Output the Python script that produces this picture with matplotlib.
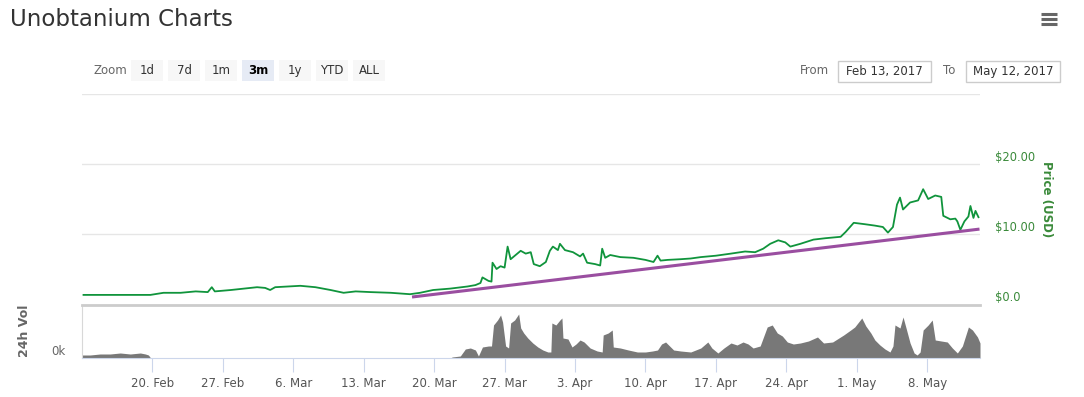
import datetime as dt
import matplotlib
matplotlib.use("Agg")
import matplotlib.pyplot as plt
import matplotlib.dates as mdates
from matplotlib.patches import Rectangle

# ---------------- data ----------------
start_date = dt.datetime(2017, 2, 13)

price_days = [0.15, 1.8, 4.8, 6.8, 8.1, 9.8, 11.3, 12.5, 12.9, 13.2, 14.8, 17.4, 18.2, 18.7, 19.2,
              21.7, 23.2, 24.7, 26.0, 27.2, 28.7, 30.7, 32.6, 33.6, 34.9, 36.6, 38.3, 39.1, 39.6,
              39.8, 40.4, 40.7, 40.8, 41.2, 41.6, 42.0, 42.3, 42.6, 43.1, 43.6, 44.1, 44.6, 44.9,
              45.5, 46.1, 46.5, 46.8, 47.3, 47.5, 48.0, 48.8, 49.5, 49.8, 50.2, 51.0, 51.5, 51.7,
              52.0, 52.5, 53.5, 54.8, 56.0, 56.8, 57.2, 57.5, 58.2, 59.5, 60.5, 61.5, 63.0, 64.5,
              65.9, 66.9, 67.7, 68.4, 69.2, 69.9, 70.4, 71.4, 72.7, 73.9, 75.4, 75.9, 76.7, 77.8,
              78.8, 79.6, 80.1, 80.6, 81.0, 81.3, 81.6, 82.3, 83.1, 83.6, 84.1, 84.8, 85.4, 85.6,
              86.3, 86.8, 87.0, 87.3, 87.7, 88.1, 88.3, 88.6, 88.8, 89.1]
price_usd = [1.3, 1.3, 1.3, 1.3, 1.6, 1.6, 1.8, 1.7, 2.4, 1.8, 2.0, 2.4, 2.3, 2.0, 2.4,
             2.6, 2.4, 2.0, 1.6, 1.8, 1.7, 1.6, 1.4, 1.6, 2.0, 2.2, 2.5, 2.7, 3.0,
             3.8, 3.3, 3.2, 5.9, 5.0, 5.4, 5.2, 8.2, 6.4, 7.0, 7.6, 7.2, 7.4, 5.7,
             5.4, 6.0, 7.6, 8.2, 7.7, 8.6, 7.7, 7.4, 6.8, 7.2, 5.9, 5.7, 5.5, 7.9,
             6.6, 7.0, 6.7, 6.6, 6.3, 6.0, 6.9, 6.2, 6.3, 6.4, 6.5, 6.7, 6.9, 7.2,
             7.5, 7.4, 7.9, 8.6, 9.1, 8.8, 8.2, 8.6, 9.2, 9.4, 9.6, 10.3, 11.6, 11.4,
             11.2, 11.0, 10.2, 11.0, 14.2, 15.2, 13.5, 14.5, 14.8, 16.4, 15.0, 15.5, 15.3, 12.6,
             12.1, 12.2, 11.8, 10.6, 11.8, 12.5, 14.0, 12.3, 13.3, 12.4]

trend_days = [32.8, 89.2]
trend_usd = [1.0, 10.7]

vol_days = [0.0, 0.8, 1.8, 2.8, 3.8, 4.8, 5.8, 6.3, 6.6, 6.8, 36.6, 36.8, 37.6, 38.1, 38.6,
            39.1, 39.4, 39.8, 40.4, 40.7, 40.9, 41.3, 41.6, 41.8, 42.1, 42.4, 42.6, 43.0, 43.4,
            43.6, 43.9, 44.3, 44.8, 45.3, 45.8, 46.3, 46.6, 46.7, 47.1, 47.5, 47.7, 47.8, 48.3,
            48.7, 49.1, 49.5, 49.9, 50.5, 51.2, 51.7, 51.8, 52.3, 52.7, 52.8, 53.5, 54.3, 55.2,
            56.0, 56.7, 57.2, 57.6, 58.0, 58.4, 58.8, 59.5, 60.5, 61.5, 62.2, 62.6, 63.2, 63.8,
            64.5, 65.1, 65.7, 66.2, 66.7, 67.4, 68.1, 68.6, 69.1, 69.6, 70.1, 70.7, 71.4, 72.2,
            73.1, 73.7, 74.6, 75.7, 76.4, 76.8, 77.5, 77.9, 78.4, 78.8, 79.3, 79.8, 80.3, 80.6,
            80.8, 81.3, 81.6, 81.9, 82.3, 82.7, 83.0, 83.3, 83.6, 84.1, 84.5, 84.8, 85.4, 86.0,
            86.5, 87.0, 87.5, 88.1, 88.5, 89.0, 89.25]
vol_k = [3, 3, 4, 4, 5, 4, 5, 4, 3, 0.3, 0, 1, 2, 9, 10,
         8, 2, 11, 12, 12, 33, 38, 43, 36, 12, 10, 35, 38, 44,
         30, 25, 20, 15, 11, 8, 6, 6, 35, 33, 38, 40, 20, 19,
         11, 14, 18, 16, 10, 7, 6, 23, 25, 28, 11, 10, 8, 6,
         6, 7, 8, 14, 16, 12, 8, 7, 6, 10, 16, 10, 5, 10,
         15, 13, 16, 14, 10, 12, 31, 33, 25, 22, 16, 14, 15, 17,
         21, 15, 16, 23, 28, 31, 40, 32, 25, 18, 13, 9, 6, 12,
         33, 30, 41, 30, 15, 5, 3, 6, 28, 33, 38, 18, 17, 16,
         10, 5, 12, 31, 28, 21, 15]

price_ticks = [0, 10, 20]
price_tick_labels = ["$0.0", "$10.00", "$20.00"]
date_ticks = ["2017-02-20", "2017-02-27", "2017-03-06", "2017-03-13", "2017-03-20",
              "2017-03-27", "2017-04-03", "2017-04-10", "2017-04-17", "2017-04-24",
              "2017-05-01", "2017-05-08"]
zoom_buttons = ["1d", "7d", "1m", "3m", "1y", "YTD", "ALL"]
selected_button = "3m"
from_date_label = "Feb 13, 2017"
to_date_label = "May 12, 2017"
title_text = "Unobtanium Charts"

# ---------------- figure ----------------
W, H = 1084, 397
fig = plt.figure(figsize=(W / 100, H / 100), dpi=100)
plt.rcParams["font.family"] = ["DejaVu Sans"]

t0 = mdates.date2num(start_date)
px = [t0 + d for d in price_days]
tx = [t0 + d for d in trend_days]
vx = [t0 + d for d in vol_days]
xlim = (t0 + 0.0, t0 + 89.25)

green = "#10943c"
purple = "#9a4ea0"
grid_c = "#e6e6e6"
label_c = "#3a8a3a"

def fr(x0, y0, x1, y1):
    return [x0 / W, 1 - y1 / H, (x1 - x0) / W, (y1 - y0) / H]

# price panel
ax = fig.add_axes(fr(82, 94, 980, 304))
ax.plot(px, price_usd, color=green, lw=1.3, zorder=3)
ax.plot(tx, trend_usd, color=purple, lw=2.2, zorder=4, solid_capstyle="butt")
ax.set_xlim(*xlim)
ax.set_ylim(0, 30)
for v in [10, 20, 30]:
    ax.axhline(v, color=grid_c, lw=1.0, zorder=1)
for s in ax.spines.values():
    s.set_visible(False)
ax.set_xticks([])
ax.yaxis.tick_right()
ax.set_yticks(price_ticks)
ax.set_yticklabels(price_tick_labels)
ax.tick_params(axis="y", length=0, pad=11, labelsize=8.3, labelcolor=label_c)
for lab in ax.get_yticklabels():
    lab.set_verticalalignment("bottom")
ax.text(1.0735, 0.5, "Price (USD)", transform=ax.transAxes, rotation=270,
        ha="center", va="center", color=label_c, fontsize=8.5, fontweight="bold")

# volume panel
av = fig.add_axes(fr(82, 305, 980, 358))
av.fill_between(vx, vol_k, 0, color="#787878", lw=0)
av.set_xlim(*xlim)
av.set_ylim(0, 53)
av.spines["right"].set_visible(False)
av.spines["left"].set_color("#d8d8d8")
av.spines["bottom"].set_color("#ccd6eb")
av.spines["top"].set_color("#cccccc")
av.spines["top"].set_linewidth(2)
av.set_yticks([0])
av.set_yticklabels(["0k"])
av.tick_params(axis="y", length=0, pad=12, labelsize=8.5, labelcolor="#666666")
for lab in av.get_yticklabels():
    lab.set_verticalalignment("bottom")
dticks = [mdates.date2num(dt.datetime.strptime(d, "%Y-%m-%d")) for d in date_ticks]
av.set_xticks(dticks)
av.set_xticklabels([f"{mdates.num2date(d).day}. {mdates.num2date(d):%b}" for d in dticks])
av.tick_params(axis="x", length=10, color="#ccd6eb", labelsize=8.5, labelcolor="#555555", pad=4)
fig.text(24 / W, 1 - 331 / H, "24h Vol", rotation=90, ha="center", va="center",
         color="#666666", fontsize=9, fontweight="bold")

# UI overlay (pixel coordinates)
ui = fig.add_axes([0, 0, 1, 1], zorder=-1)
ui.set_xlim(0, W)
ui.set_ylim(H, 0)
ui.axis("off")
ui.text(10, 20, title_text, fontsize=16.5, color="#333333", ha="left", va="center")
for yy in (14, 19, 24):
    ui.plot([1041, 1057], [yy, yy], color="#666666", lw=2.2, solid_capstyle="butt")
ui.text(93, 71, "Zoom", fontsize=8.5, color="#666666", ha="left", va="center")
bx = [131, 168, 205, 242, 279, 316, 353]
for x0, b in zip(bx, zoom_buttons):
    sel = (b == selected_button)
    ui.add_patch(Rectangle((x0, 60), 32, 21, facecolor="#e6ebf5" if sel else "#f7f7f7",
                           edgecolor="none"))
    ui.text(x0 + 16, 70.5, b, fontsize=8.5, ha="center", va="center",
            color="#000000" if sel else "#333333", fontweight="bold" if sel else "normal")
ui.text(800, 71, "From", fontsize=8.5, color="#666666", ha="left", va="center")
ui.add_patch(Rectangle((838, 60.5), 93, 21, facecolor="white", edgecolor="#cccccc", lw=1))
ui.text(884.5, 71, from_date_label, fontsize=8.5, color="#333333", ha="center", va="center")
ui.text(943, 71, "To", fontsize=8.5, color="#666666", ha="left", va="center")
ui.add_patch(Rectangle((966, 60.5), 94, 21, facecolor="white", edgecolor="#cccccc", lw=1))
ui.text(1013, 71, to_date_label, fontsize=8.5, color="#333333", ha="center", va="center")

fig.savefig("out.png", dpi=100)
